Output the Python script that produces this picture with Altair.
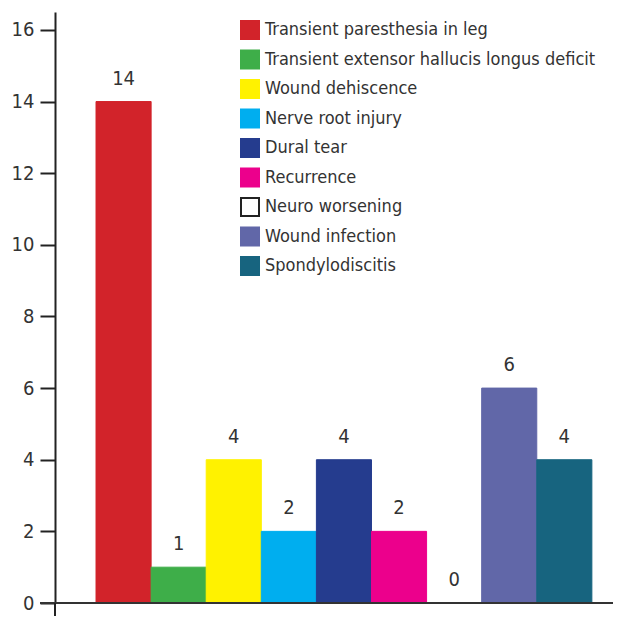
import altair as alt
import pandas as pd

categories = [
    "Transient paresthesia in leg",
    "Transient extensor hallucis longus deficit",
    "Wound dehiscence",
    "Nerve root injury",
    "Dural tear",
    "Recurrence",
    "Neuro worsening",
    "Wound infection",
    "Spondylodiscitis",
]
values = [14, 1, 4, 2, 4, 2, 0, 6, 4]
fills = ["#D2232A", "#3EAE49", "#FFF200", "#00AEEF", "#253C8E",
         "#EC008C", "#FFFFFF", "#6167A8", "#17647F"]
strokes = ["#D2232A", "#3EAE49", "#FFF200", "#00AEEF", "#253C8E",
           "#EC008C", "#222222", "#6167A8", "#17647F"]
y_ticks = [0, 2, 4, 6, 8, 10, 12, 14, 16]

df = pd.DataFrame({"cat": categories, "val": values})

FONT = "DejaVu Sans Condensed, Roboto Condensed, Arial Narrow, Roboto, sans-serif"
W, H = 558, 591

xenc = alt.X("cat:N", sort=categories, axis=None,
             scale=alt.Scale(paddingInner=0, paddingOuter=0.564, align=0.66))
yscale = alt.Scale(domain=[0, 16.5], nice=False)

legend = alt.Legend(
    title=None, orient="none", legendX=185, legendY=8,
    symbolType="square", symbolSize=324, symbolStrokeWidth=2,
    labelFont=FONT, labelFontSize=18, labelColor="#333333",
    rowPadding=3.5, labelLimit=500, labelOffset=5, symbolOpacity=1,
)

bars = alt.Chart(df).mark_bar(strokeWidth=1, opacity=1).encode(
    x=xenc,
    y=alt.Y("val:Q", scale=yscale,
            axis=alt.Axis(values=y_ticks, title=None, grid=False,
                          tickSize=15, tickWidth=2, tickColor="#222222",
                          domainColor="#222222", domainWidth=2,
                          labelFont=FONT, labelFontSize=20, labelColor="#333333",
                          labelPadding=6)),
    color=alt.Color("cat:N", sort=categories,
                    scale=alt.Scale(domain=categories, range=fills), legend=legend),
    stroke=alt.Stroke("cat:N", sort=categories,
                      scale=alt.Scale(domain=categories, range=strokes), legend=legend),
)

text = alt.Chart(df).mark_text(
    baseline="bottom", dy=-13, font=FONT, fontSize=20, color="#333333"
).encode(x=xenc, y=alt.Y("val:Q", scale=yscale), text="val:Q")

one = pd.DataFrame({"a": [0]})
xaxis_line = alt.Chart(one).mark_rule(color="#333333", strokeWidth=2).encode(
    x=alt.value(-15), x2=alt.value(W), y=alt.value(H))
yaxis_ext = alt.Chart(one).mark_rule(color="#222222", strokeWidth=2).encode(
    x=alt.value(0), y=alt.value(H), y2=alt.value(H + 20))

chart = alt.layer(bars, text, xaxis_line, yaxis_ext).properties(
    width=W, height=H, autosize="none",
    padding={"left": 47, "top": 4, "right": 0, "bottom": 13},
).configure_view(stroke=None)

chart.save("out.html", embed_options={"renderer": "svg", "actions": False})
